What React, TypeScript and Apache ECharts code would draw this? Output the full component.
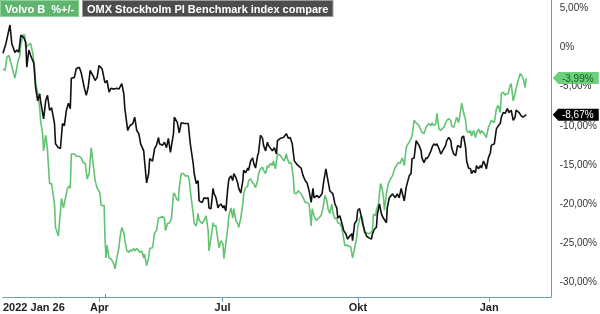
import React, { useEffect, useRef } from "react";
import * as echarts from "echarts";

// trading-day index since 2022-01-26, percent change
const volvoB: [number, number][] = [[0,-2.8],[1,-3.0],[1.9,-1.3],[2.9,-1.1],[3.9,-2.1],[4.8,-3.0],[5.8,-4.0],[6.3,-3.3],[7.2,-2.0],[8.2,-1.1],[8.7,0.4],[9.7,1.5],[10.6,1.5],[11.1,-0.1],[12.1,0.2],[13,0.4],[13.5,0.4],[14.5,-0.8],[15.5,-2.8],[15.9,-4.7],[16.9,-5.8],[17.9,-7.8],[18.3,-9.4],[19.3,-11.1],[19.8,-13.3],[20.8,-11.3],[21.2,-12.0],[21.7,-13.3],[22.7,-17.5],[23.7,-17.5],[25.1,-20.1],[25.6,-23.1],[27,-24.2],[27.5,-22.6],[28.5,-19.4],[29.5,-20.6],[30.4,-19.4],[31.4,-18.1],[32.4,-17.8],[32.8,-18.1],[33.3,-13.7],[34.8,-13.7],[35.7,-14.0],[37.2,-14.0],[38.1,-14.2],[39.1,-14.8],[40.1,-14.9],[41,-16.9],[42,-16.2],[43,-12.9],[43.9,-14.9],[44.9,-17.1],[45.9,-18.1],[46.8,-18.4],[47.3,-18.8],[47.8,-20.3],[49.3,-20.3],[49.7,-24.4],[50.2,-27.0],[50.7,-25.4],[51.7,-27.0],[52.6,-27.1],[54.1,-27.8],[54.6,-28.4],[55.5,-27.0],[56.5,-25.7],[57,-24.4],[57.9,-23.1],[58.9,-23.8],[59.4,-24.8],[60.4,-26.1],[61.3,-26.3],[61.8,-26.0],[62.8,-26.1],[63.7,-25.8],[64.2,-26.1],[65.2,-25.8],[66.2,-26.1],[66.6,-26.3],[67.6,-26.1],[68.6,-27.0],[69,-26.5],[70,-28.0],[71,-27.0],[71.5,-25.8],[72.9,-25.7],[73.9,-23.8],[74.8,-23.5],[75.8,-21.9],[76.3,-21.9],[77.7,-21.7],[78.7,-21.9],[79.2,-23.5],[80.2,-22.6],[81.1,-22.5],[82.1,-22.0],[83.1,-18.8],[83.5,-18.7],[84.5,-19.4],[85.5,-19.7],[85.9,-18.0],[86.9,-16.2],[87.9,-16.2],[88.8,-16.5],[90.3,-16.5],[90.8,-17.1],[91.7,-19.3],[92.7,-21.3],[93.2,-22.6],[94.2,-22.9],[95.1,-21.3],[95.6,-22.2],[97.1,-22.6],[98,-22.2],[99,-21.6],[100,-23.5],[100.4,-26.1],[101.4,-24.4],[102.4,-22.5],[102.8,-22.9],[103.8,-22.9],[104.8,-24.8],[105.3,-25.7],[106.2,-24.8],[107.2,-25.2],[107.7,-27.1],[108.6,-25.2],[109.6,-23.1],[110.1,-21.6],[111.1,-20.6],[112,-21.9],[112.5,-20.7],[113.5,-22.2],[114.4,-22.6],[114.9,-23.1],[115.9,-21.9],[116.9,-20.1],[117.3,-18.8],[118.3,-18.0],[119.3,-17.8],[119.7,-17.1],[120.7,-16.9],[121.7,-17.4],[122.2,-17.5],[123.1,-18.0],[124.1,-17.1],[124.6,-16.2],[125.5,-15.6],[126.5,-15.4],[127,-15.8],[128,-16.2],[128.9,-15.2],[129.4,-15.4],[130.4,-14.9],[131.3,-15.2],[131.8,-14.6],[132.8,-15.6],[133.8,-13.7],[135.2,-13.9],[136.2,-14.3],[137.1,-14.6],[138.1,-13.7],[138.6,-14.3],[139.5,-14.9],[140.5,-14.8],[141.5,-16.7],[142,-18.7],[142.9,-18.8],[143.9,-18.4],[145.3,-18.8],[146.3,-19.3],[147.3,-19.9],[148.2,-19.9],[149.2,-20.1],[150.2,-22.9],[150.7,-20.7],[151.6,-21.6],[152.6,-22.2],[153.5,-22.0],[155,-21.6],[156,-20.6],[156.9,-19.0],[157.9,-19.7],[158.4,-20.7],[159.3,-21.3],[160.3,-20.1],[160.8,-21.2],[161.8,-22.0],[162.7,-21.9],[163.2,-22.5],[164.2,-22.6],[165.1,-23.1],[165.6,-23.8],[166.6,-25.4],[168,-25.4],[169.5,-25.6],[170.4,-27.0],[171.4,-25.8],[172.4,-24.4],[172.9,-23.1],[173.8,-22.0],[174.8,-21.6],[175.3,-22.2],[176.2,-23.8],[177.2,-23.8],[178.7,-23.9],[180.1,-23.5],[180.6,-21.4],[181.6,-21.6],[182,-20.9],[183,-20.1],[184,-17.5],[184.5,-17.8],[185.4,-19.0],[185.9,-20.9],[186.9,-18.8],[187.8,-17.5],[189.3,-16.7],[189.8,-16.5],[191.2,-15.4],[191.7,-15.2],[192.7,-14.8],[193.6,-14.9],[194.6,-14.2],[195.1,-14.6],[195.6,-15.2],[196.5,-13.0],[197,-12.6],[198,-12.2],[198.9,-11.7],[199.4,-11.4],[200.4,-9.4],[201.4,-9.7],[201.8,-9.8],[202.8,-10.1],[203.8,-10.7],[204.2,-10.9],[205.2,-11.1],[206.2,-10.3],[206.7,-10.1],[207.6,-9.8],[208.6,-10.1],[209.1,-9.7],[210,-10.1],[211,-9.8],[211.5,-8.5],[212.5,-10.5],[213.4,-10.7],[213.9,-10.5],[214.9,-10.3],[215.8,-9.7],[216.3,-9.4],[217.3,-9.2],[218.3,-9.4],[218.7,-10.1],[219.7,-10.3],[220.7,-9.4],[221.1,-9.0],[222.1,-9.7],[223.1,-8.1],[223.6,-7.2],[224.5,-8.4],[225.5,-9.4],[226,-10.7],[226.9,-11.0],[227.9,-10.7],[228.4,-11.4],[229.4,-10.7],[230.3,-11.6],[230.8,-11.1],[231.8,-10.5],[232.7,-11.1],[233.2,-10.7],[234.2,-11.0],[235.2,-11.4],[235.6,-11.6],[236.6,-10.3],[237.6,-9.7],[238,-9.4],[239.5,-9.7],[240.5,-7.9],[241.4,-7.5],[242.4,-8.4],[242.9,-6.0],[243.8,-5.8],[244.8,-6.2],[245.3,-6.0],[246.3,-6.0],[247.2,-4.9],[247.7,-4.7],[248.7,-6.9],[249.6,-6.0],[250.1,-5.3],[251.1,-4.3],[252.1,-3.4],[252.5,-3.5],[253.5,-4.0],[254.5,-5.2],[255,-3.99]];

const omxBenchmark: [number, number][] = [[0,-0.8],[1.4,0.4],[3.4,2.8],[4.3,0.4],[5.8,-0.7],[6.8,-0.4],[7.7,-0.7],[8.7,1.5],[10.1,1.2],[11.1,0.6],[11.6,-2.6],[12.6,-0.4],[13.5,-1.1],[15,-2.1],[15.9,-5.2],[16.9,-6.9],[17.9,-6.0],[18.3,-6.9],[19.8,-9.2],[20.8,-6.9],[21.7,-6.2],[22.7,-8.1],[23.7,-7.8],[25.1,-9.8],[25.6,-12.4],[27,-12.9],[28,-13.0],[29,-9.8],[29.9,-10.1],[30.9,-8.1],[31.9,-7.2],[32.8,-7.9],[33.3,-4.0],[34.8,-3.9],[35.7,-2.8],[37.2,-2.6],[38.1,-3.3],[39.6,-5.2],[40.6,-6.2],[41.5,-5.2],[42.5,-3.0],[43.9,-3.7],[44.9,-4.3],[45.9,-3.9],[46.8,-2.4],[48.3,-2.8],[49.7,-4.6],[50.7,-4.3],[51.7,-5.8],[52.6,-5.3],[54.1,-5.4],[55.5,-5.3],[56.5,-5.4],[57.9,-4.7],[58.9,-6.0],[59.4,-7.9],[60.8,-10.7],[61.8,-10.1],[63.3,-9.8],[64.2,-9.0],[65.2,-10.7],[66.2,-11.1],[67.1,-12.4],[68.6,-13.3],[69,-14.6],[70,-17.4],[71,-16.2],[71.5,-14.3],[72.9,-14.6],[73.9,-13.0],[74.8,-12.6],[75.8,-11.6],[76.3,-12.4],[77.7,-12.6],[78.7,-12.2],[79.7,-12.9],[80.6,-11.7],[81.6,-13.5],[83.1,-11.1],[83.5,-9.0],[85,-9.7],[85.9,-11.0],[86.9,-9.7],[88.4,-9.8],[89.3,-9.8],[90.3,-9.8],[91.3,-12.4],[92.7,-14.9],[93.2,-16.2],[94.2,-17.5],[95.1,-17.1],[95.6,-19.7],[97.1,-19.9],[98,-19.3],[99,-19.4],[100,-19.3],[100.4,-20.6],[101.4,-20.7],[102.4,-18.1],[102.8,-18.7],[103.8,-19.3],[104.8,-20.6],[105.3,-20.3],[106.2,-20.1],[107.2,-20.6],[107.7,-20.3],[108.6,-21.0],[109.6,-18.0],[110.1,-16.9],[111.1,-16.5],[112,-17.1],[112.5,-16.2],[113.5,-16.7],[114.4,-17.4],[114.9,-18.1],[115.9,-18.7],[116.9,-17.1],[117.3,-15.8],[118.3,-16.1],[119.3,-15.5],[119.7,-15.8],[120.7,-14.6],[121.7,-14.2],[122.2,-14.9],[123.1,-15.5],[124.1,-13.9],[124.6,-13.5],[125.5,-11.3],[126.5,-11.7],[127,-12.6],[128,-13.3],[128.9,-12.2],[129.4,-12.6],[131.3,-13.3],[132.3,-12.9],[133.3,-13.7],[133.8,-12.0],[135.2,-11.7],[136.7,-11.6],[138.1,-11.1],[139.1,-11.7],[140,-11.6],[141,-12.4],[142,-14.6],[142.9,-14.9],[143.9,-15.2],[145.3,-15.5],[146.3,-16.5],[147.3,-17.1],[148.2,-17.4],[149.2,-18.4],[150.2,-19.9],[151.1,-18.1],[151.6,-19.3],[153.1,-19.0],[154,-19.3],[155.5,-18.8],[156.4,-17.1],[157.4,-15.6],[158.4,-17.1],[159.3,-18.4],[160.8,-18.8],[161.8,-20.1],[162.7,-20.6],[163.2,-21.9],[164.2,-21.6],[165.1,-22.5],[166.1,-23.5],[167.1,-23.9],[168,-24.6],[169,-24.2],[170,-23.9],[170.4,-24.8],[171.4,-22.6],[172.4,-22.2],[172.9,-20.9],[173.8,-20.7],[174.8,-21.9],[175.3,-22.6],[176.2,-23.5],[177.2,-24.2],[178.2,-24.4],[179.6,-24.6],[180.1,-23.9],[181.1,-23.3],[182,-23.1],[182.5,-21.4],[183.5,-20.1],[184.5,-21.4],[185.4,-21.9],[186.9,-22.5],[187.3,-20.6],[188.3,-19.3],[189.3,-19.0],[189.8,-18.8],[191.2,-19.3],[192.2,-18.8],[193.1,-19.3],[194.1,-18.1],[194.6,-18.7],[195.6,-19.7],[196.5,-18.0],[197,-17.5],[198,-16.5],[198.9,-16.2],[199.4,-14.3],[200.4,-14.2],[201.4,-12.0],[201.8,-12.2],[202.8,-12.6],[203.8,-13.3],[204.2,-14.2],[205.2,-14.8],[206.2,-14.2],[206.7,-14.3],[207.6,-13.9],[208.6,-13.3],[209.1,-12.9],[210,-12.4],[211,-12.6],[211.5,-12.4],[212.5,-13.0],[213.4,-13.7],[213.9,-13.5],[214.9,-13.0],[215.8,-12.6],[216.3,-12.0],[217.3,-11.6],[218.3,-12.0],[218.7,-12.9],[219.7,-13.7],[220.7,-13.9],[221.6,-12.6],[223.1,-12.9],[223.6,-11.6],[224.5,-11.4],[225.5,-12.9],[226,-14.6],[226.9,-15.5],[227.9,-15.6],[228.4,-16.2],[229.4,-15.8],[230.3,-16.1],[230.8,-15.2],[231.8,-15.6],[232.7,-15.2],[233.2,-15.5],[234.2,-14.6],[235.2,-15.2],[235.6,-15.6],[236.6,-14.2],[237.6,-13.5],[238,-12.6],[239.5,-12.4],[240.5,-10.5],[241.4,-10.1],[242.4,-9.8],[242.9,-9.0],[243.8,-8.4],[244.8,-8.5],[245.8,-7.9],[246.7,-8.4],[247.7,-8.1],[248.7,-9.4],[249.6,-9.0],[250.1,-8.1],[251.6,-8.4],[252.5,-8.8],[253.5,-9.0],[254.5,-8.8],[255,-8.67]];

const seriesNames = ["Volvo B  %+/-", "OMX Stockholm PI Benchmark index compare"];
const xTickValues = [47, 107, 173, 237];
const xLabelValues = [0, 47, 107, 173, 237];
const xLabelTexts: Record<number, string> = { 0: "2022 Jan 26", 47: "Apr", 107: "Jul", 173: "Okt", 237: "Jan" };
const dividendDays = [50];
const yTickValues = [5, 0, -5, -10, -15, -20, -25, -30];
const lastVolvo = -3.99;
const lastOmx = -8.67;

const X_MIN = 0;
const X_MAX = 267;
const Y_MIN = -32;
const Y_MAX = 6;

const FONT = "Arial, 'Liberation Sans', sans-serif";
const GREEN = "#62c373";
const BLACK = "#111111";
const AXIS = "#6f9cb8";

const fmtPct = (v: number) => (v === 0 ? "0%" : v.toFixed(2).replace(".", ",") + "%");

const TAG = "path://M0,6 L6,0 L50,0 L50,12 L6,12 Z";

export default function App() {
  const ref = useRef<HTMLDivElement>(null);
  useEffect(() => {
    if (!ref.current) return;
    const chart = echarts.init(ref.current, undefined, { renderer: "svg" });
    chart.setOption({
      animation: false,
      grid: { left: 0, right: 47, top: 0, bottom: 17, containLabel: false },
      xAxis: [
        {
          type: "value",
          min: X_MIN,
          max: X_MAX,
          position: "bottom",
          splitLine: { show: false },
          axisLine: { show: true, onZero: false, lineStyle: { color: AXIS, width: 1 } },
          axisTick: { show: true, customValues: xTickValues, length: 5, lineStyle: { color: AXIS } },
          axisLabel: {
            show: true,
            customValues: xLabelValues,
            formatter: (v: number) => xLabelTexts[v] ?? "",
            margin: 4,
            color: "#222",
            fontWeight: "bold",
            fontSize: 11,
            fontFamily: FONT,
            alignMinLabel: "left",
          },
        },
        {
          type: "value",
          min: X_MIN,
          max: X_MAX,
          position: "bottom",
          offset: 0,
          splitLine: { show: false },
          axisLine: { show: false, onZero: false },
          axisLabel: { show: false },
          axisTick: { show: true, inside: true, customValues: dividendDays, length: 3, lineStyle: { color: "#f05050", width: 1 } },
        },
      ],
      yAxis: {
        type: "value",
        min: Y_MIN,
        max: Y_MAX,
        position: "right",
        splitLine: { show: false },
        axisLine: { show: true, onZero: false, lineStyle: { color: AXIS, width: 1 } },
        axisTick: { show: false },
        axisLabel: {
          customValues: yTickValues,
          formatter: (v: number) => fmtPct(v),
          color: "#333",
          fontSize: 10,
          fontFamily: FONT,
          margin: 9,
        },
      },
      graphic: [
        {
          type: "text",
          left: 0,
          top: 0,
          style: {
            text: seriesNames[0],
            fill: "#fff",
            font: `bold 11px ${FONT}`,
            backgroundColor: "#5fb56e",
            borderColor: "#8fd29b",
            borderWidth: 1,
            padding: [2, 4, 2, 4],
          },
        },
        {
          type: "text",
          left: 82,
          top: 0,
          style: {
            text: seriesNames[1],
            fill: "#fff",
            font: `bold 11px ${FONT}`,
            backgroundColor: "#4d4d4d",
            borderColor: "#9a9a9a",
            borderWidth: 1,
            padding: [2, 4, 2, 4],
          },
        },
      ],
      series: [
        {
          name: seriesNames[0],
          type: "line",
          data: volvoB,
          showSymbol: false,
          symbol: "none",
          lineStyle: { color: GREEN, width: 1.6 },
          z: 2,
          markPoint: {
            symbol: TAG,
            symbolSize: [46, 12],
            symbolOffset: [25, 0],
            itemStyle: { color: "#6ad07a" },
            label: { show: true, position: "inside", formatter: fmtPct(lastVolvo), color: "#1d5a26", fontSize: 10, fontFamily: FONT, offset: [2, 0] },
            data: [{ coord: [X_MAX, lastVolvo] }],
          },
        },
        {
          name: seriesNames[1],
          type: "line",
          data: omxBenchmark,
          showSymbol: false,
          symbol: "none",
          lineStyle: { color: BLACK, width: 1.6 },
          z: 3,
          markPoint: {
            symbol: TAG,
            symbolSize: [46, 12],
            symbolOffset: [25, 0],
            itemStyle: { color: "#000" },
            label: { show: true, position: "inside", formatter: fmtPct(lastOmx), color: "#fff", fontSize: 10, fontFamily: FONT, offset: [2, 0] },
            data: [{ coord: [X_MAX, lastOmx] }],
          },
        },
      ],
    });
    return () => chart.dispose();
  }, []);
  return <div ref={ref} style={{ position: "fixed", left: 0, top: 0, width: 600, height: 314 }} />;
}
